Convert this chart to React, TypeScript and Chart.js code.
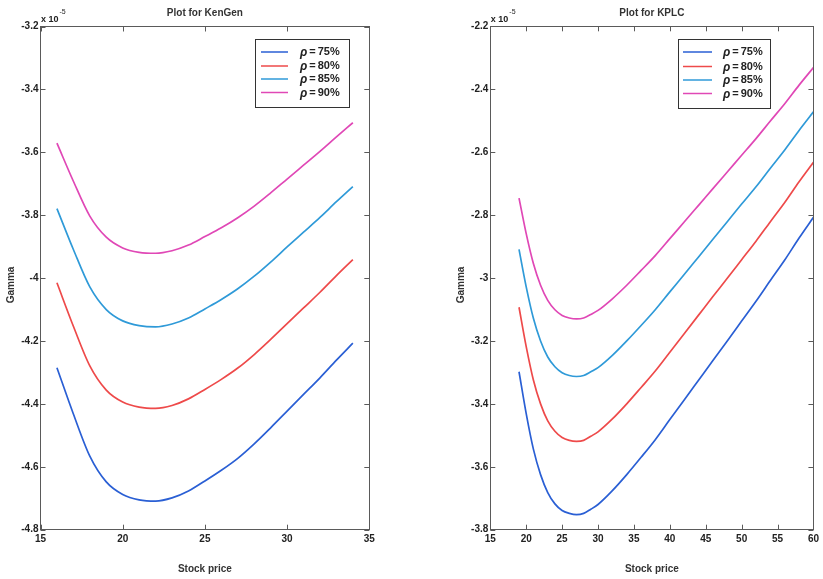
import React, { useEffect, useRef } from 'react';
import { Chart, registerables } from 'chart.js';

Chart.register(...registerables);

// ---------- data ----------
const seriesLabels = ['ρ = 75%', 'ρ = 80%', 'ρ = 85%', 'ρ = 90%'];
const seriesColors = ['#2a5fd4', '#ee4a4a', '#2f9ad8', '#e048b6'];

const kengenPrice = [16, 17, 18, 19, 20, 21, 22, 23, 24, 25, 26, 27, 28, 29, 30, 31, 32, 33, 34];
const kengen75 = [-4.285, -4.432, -4.566, -4.648, -4.688, -4.705, -4.709, -4.699, -4.677, -4.645, -4.611, -4.573, -4.527, -4.476, -4.423, -4.37, -4.317, -4.261, -4.207];
const kengen80 = [-4.015, -4.153, -4.279, -4.356, -4.394, -4.41, -4.414, -4.405, -4.384, -4.354, -4.322, -4.286, -4.243, -4.195, -4.145, -4.095, -4.045, -3.992, -3.941];
const kengen85 = [-3.779, -3.909, -4.028, -4.1, -4.136, -4.151, -4.155, -4.146, -4.127, -4.098, -4.068, -4.034, -3.994, -3.949, -3.901, -3.854, -3.807, -3.757, -3.709];
const kengen90 = [-3.571, -3.692, -3.803, -3.87, -3.904, -3.918, -3.921, -3.913, -3.895, -3.868, -3.84, -3.808, -3.771, -3.729, -3.685, -3.641, -3.597, -3.551, -3.506];

const kplcPrice = [19, 20, 21, 22, 23, 24, 25, 26, 27, 28, 29, 30, 32, 34, 36, 38, 40, 42, 44, 46, 48, 50, 52, 54, 56, 58, 60];
const kplc75 = [-3.298, -3.431, -3.544, -3.625, -3.682, -3.718, -3.739, -3.748, -3.752, -3.748, -3.735, -3.72, -3.676, -3.625, -3.57, -3.513, -3.45, -3.388, -3.325, -3.262, -3.2, -3.137, -3.074, -3.008, -2.943, -2.873, -2.807];
const kplc80 = [-3.093, -3.218, -3.324, -3.4, -3.454, -3.487, -3.507, -3.516, -3.519, -3.516, -3.503, -3.489, -3.448, -3.4, -3.348, -3.295, -3.236, -3.177, -3.118, -3.059, -3.001, -2.942, -2.883, -2.821, -2.76, -2.694, -2.632];
const kplc85 = [-2.909, -3.028, -3.128, -3.2, -3.251, -3.282, -3.301, -3.31, -3.313, -3.31, -3.298, -3.285, -3.246, -3.2, -3.151, -3.1, -3.044, -2.989, -2.933, -2.877, -2.821, -2.765, -2.71, -2.651, -2.593, -2.531, -2.472];
const kplc90 = [-2.746, -2.859, -2.954, -3.023, -3.071, -3.101, -3.119, -3.127, -3.13, -3.127, -3.116, -3.103, -3.066, -3.023, -2.976, -2.928, -2.875, -2.822, -2.769, -2.716, -2.663, -2.61, -2.557, -2.501, -2.446, -2.387, -2.331];

const kengenXRange = [15, 35];
const kengenYRange = [-4.8, -3.2];
const kplcXRange = [15, 60];
const kplcYRange = [-3.8, -2.2];
const xTickStep = 5;
const yTickStep = 0.2;
const exponentText = ['x 10', '-5'];
const xAxisTitle = 'Stock price';
const yAxisTitle = 'Gamma';

// ---------- drawing helpers ----------
const FONT = "'Liberation Sans', Arial, sans-serif";

const decorPlugin = {
  id: 'decor',
  afterDraw(chart: any, _args: any, opts: any) {
    const { ctx, chartArea: a, scales } = chart;
    ctx.save();
    // frame
    ctx.strokeStyle = '#5a5a5a';
    ctx.lineWidth = 1;
    ctx.strokeRect(Math.floor(a.left) + 0.5, Math.floor(a.top) + 0.5, Math.round(a.right - a.left), Math.round(a.bottom - a.top));
    // inner tick marks on all sides
    const tl = 5;
    ctx.beginPath();
    scales.x.ticks.forEach((t: any) => {
      const px = Math.round(scales.x.getPixelForValue(t.value)) + 0.5;
      ctx.moveTo(px, a.bottom);
      ctx.lineTo(px, a.bottom - tl);
      ctx.moveTo(px, a.top);
      ctx.lineTo(px, a.top + tl);
    });
    scales.y.ticks.forEach((t: any) => {
      const py = Math.round(scales.y.getPixelForValue(t.value)) + 0.5;
      ctx.moveTo(a.left, py);
      ctx.lineTo(a.left + tl, py);
      ctx.moveTo(a.right, py);
      ctx.lineTo(a.right - tl, py);
    });
    ctx.stroke();

    // title
    ctx.fillStyle = '#333';
    ctx.textAlign = 'center';
    ctx.textBaseline = 'middle';
    ctx.font = `bold 10px ${FONT}`;
    ctx.fillText(opts.title, (a.left + a.right) / 2, 13);
    // x axis title
    ctx.fillText(xAxisTitle, (a.left + a.right) / 2, 569);
    // y axis title
    ctx.save();
    ctx.translate(opts.yTitleX, 285);
    ctx.rotate(-Math.PI / 2);
    ctx.fillText(yAxisTitle, 0, 0);
    ctx.restore();

    // exponent
    ctx.textAlign = 'left';
    ctx.textBaseline = 'alphabetic';
    ctx.fillStyle = '#222';
    ctx.font = `bold 9px ${FONT}`;
    const base = a.left + 0.5;
    ctx.fillText(exponentText[0], base, 21.5);
    const w = ctx.measureText(exponentText[0]).width;
    ctx.font = `7px ${FONT}`;
    ctx.fillText(exponentText[1], base + w + 1, 14);

    // legend
    const L = opts.legend;
    ctx.fillStyle = '#fff';
    ctx.fillRect(L.x, L.y, L.w, L.h);
    ctx.strokeStyle = '#333';
    ctx.strokeRect(L.x + 0.5, L.y + 0.5, L.w, L.h);
    chart.data.datasets.forEach((ds: any, i: number) => {
      const yy = L.y + L.rows[i];
      ctx.strokeStyle = ds.borderColor;
      ctx.lineWidth = 1.5;
      ctx.beginPath();
      ctx.moveTo(L.x + L.lineFrom, yy);
      ctx.lineTo(L.x + L.lineTo, yy);
      ctx.stroke();
      const [sym, eq, val] = String(ds.label).split(' ');
      ctx.fillStyle = '#222';
      ctx.textBaseline = 'middle';
      ctx.font = `italic bold 12px ${FONT}`;
      let tx = L.x + L.textX;
      ctx.fillText(sym, tx, yy + 1);
      tx += ctx.measureText(sym).width + 2;
      ctx.font = `bold 11px ${FONT}`;
      ctx.fillText(eq, tx, yy);
      tx += ctx.measureText(eq).width + 2;
      ctx.fillText(val, tx, yy);
    });
    ctx.restore();
  },
};

function buildConfig(p: any) {
  const tickFont = { family: FONT, size: 10, weight: 'bold' as const };
  return {
    type: 'line' as const,
    data: {
      datasets: p.series.map((vals: number[], i: number) => ({
        label: seriesLabels[i],
        data: p.x.map((x: number, j: number) => ({ x, y: vals[j] })),
        borderColor: seriesColors[i],
        backgroundColor: seriesColors[i],
        borderWidth: 1.7,
        pointRadius: 0,
        cubicInterpolationMode: 'monotone' as const,
        fill: false,
      })),
    },
    options: {
      responsive: false,
      animation: false as const,
      events: [],
      layout: { padding: p.padding },
      plugins: {
        legend: { display: false },
        title: { display: false },
        tooltip: { enabled: false },
        decor: { title: p.title, yTitleX: p.yTitleX, legend: p.legend },
      },
      scales: {
        x: {
          type: 'linear' as const,
          min: p.xRange[0],
          max: p.xRange[1],
          grid: { display: false, drawTicks: false },
          border: { display: false },
          ticks: { stepSize: xTickStep, autoSkip: false, maxRotation: 0, padding: 4, color: '#222', font: tickFont },
          afterFit: (s: any) => { s.height = 49.3; },
        },
        y: {
          type: 'linear' as const,
          min: p.yRange[0],
          max: p.yRange[1],
          grid: { display: false, drawTicks: false },
          border: { display: false },
          ticks: {
            stepSize: yTickStep,
            autoSkip: false,
            padding: 2,
            color: '#222',
            font: tickFont,
            callback: (v: any) => String(Math.round(Number(v) * 10) / 10),
          },
          afterFit: (s: any) => { s.width = 40.5; },
        },
      },
    },
    plugins: [decorPlugin],
  };
}

const panels = [
  {
    left: 0,
    width: 420,
    title: 'Plot for KenGen',
    x: kengenPrice,
    series: [kengen75, kengen80, kengen85, kengen90],
    xRange: kengenXRange,
    yRange: kengenYRange,
    padding: { left: 0, right: 50.7, top: 26.5, bottom: 0 },
    yTitleX: 11.5,
    legend: { x: 255, y: 39, w: 94, h: 68, rows: [13, 27, 40, 53.5], lineFrom: 6, lineTo: 33, textX: 45 },
  },
  {
    left: 420,
    width: 403,
    title: 'Plot for KPLC',
    x: kplcPrice,
    series: [kplc75, kplc80, kplc85, kplc90],
    xRange: kplcXRange,
    yRange: kplcYRange,
    padding: { left: 29.8, right: 5.1, top: 26.3, bottom: 0 },
    yTitleX: 41,
    legend: { x: 258, y: 39, w: 92, h: 69, rows: [13, 27.5, 41, 54.5], lineFrom: 5, lineTo: 34, textX: 45 },
  },
];

function Panel({ p }: { p: any }) {
  const ref = useRef<HTMLCanvasElement>(null);
  useEffect(() => {
    const chart = new Chart(ref.current as HTMLCanvasElement, buildConfig(p) as any);
    return () => chart.destroy();
  }, [p]);
  return (
    <canvas
      ref={ref}
      width={p.width}
      height={579}
      style={{ position: 'absolute', left: p.left, top: 0, width: p.width, height: 579 }}
    />
  );
}

export default function App() {
  return (
    <div style={{ position: 'absolute', left: 0, top: 0, width: 823, height: 579, background: '#fff', overflow: 'hidden' }}>
      {panels.map((p, i) => (
        <Panel key={i} p={p} />
      ))}
    </div>
  );
}
